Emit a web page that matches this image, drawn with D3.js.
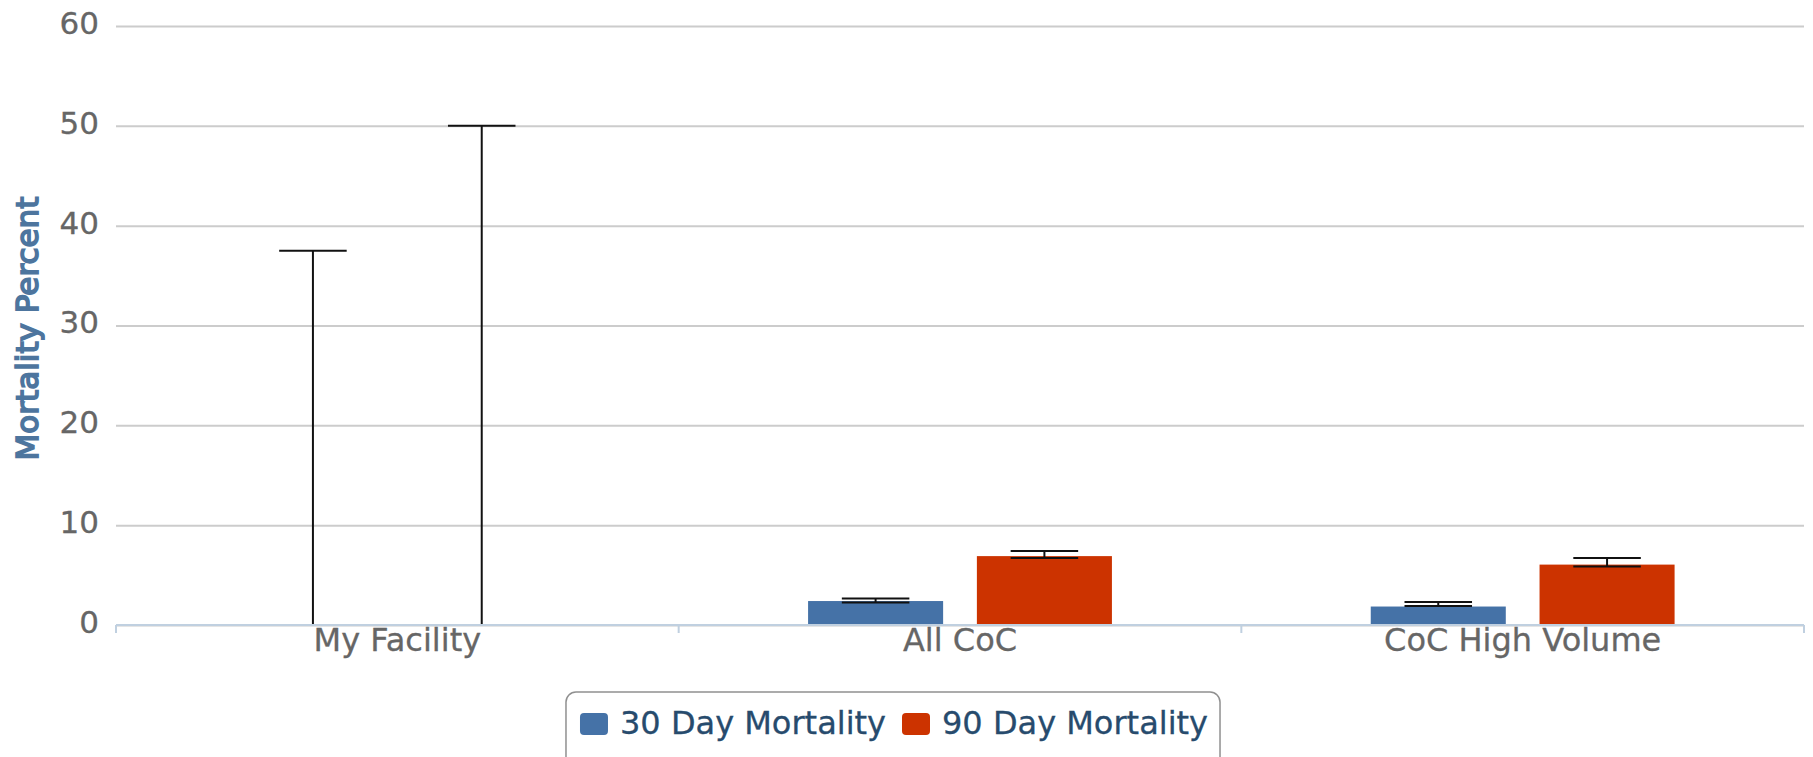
<!doctype html>
<html lang="en">
<head>
  <meta charset="utf-8">
  <title>Mortality</title>
  <script src="https://cdnjs.cloudflare.com/ajax/libs/d3/7.8.5/d3.min.js"></script>
  <style>
    body { margin: 0; background: #fff; }
    svg { display: block; font-family: "DejaVu Sans", sans-serif; }
  </style>
</head>
<body>
  <svg id="chart" width="1813" height="757"></svg>
<script>
  //
  // Data
  //
  var categories = ['My Facility', 'All CoC', 'CoC High Volume']
  var seriesNames = ['30 Day Mortality', '90 Day Mortality']
  var mort30 = [0, 2.4, 1.85]
  var mort90 = [0, 6.9, 6.05]
  var err30Low = [0, 2.26, 1.9]
  var err30High = [37.5, 2.66, 2.3]
  var err90Low = [0, 6.7, 5.86]
  var err90High = [50, 7.4, 6.72]
  var yTicks = [0, 10, 20, 30, 40, 50, 60]

  //
  // Configuration
  //
  var colors = ['#4572A7', '#CC3300']
  var plot = { left: 116, right: 1804, top: 26, bottom: 625 }
  var colorGrid = '#cccccc'
  var colorAxis = '#C0D0E0'
  var colorLabel = '#666666'

  var svg = d3.select('#chart')

  var x = d3.scaleBand().domain(categories).range([plot.left, plot.right])
  var bw = x.bandwidth()
  var xInner = d3.scaleBand().domain(seriesNames)
    .range([bw * 0.2, bw * 0.8]).paddingInner(0.2).paddingOuter(0.1)
  var y = d3.scaleLinear().domain([0, 60]).range([plot.bottom, plot.top])

  // grid + y labels
  var yAxis = svg.append('g')
    .attr('transform', 'translate(' + plot.left + ',0)')
    .call(d3.axisLeft(y).tickValues(yTicks).tickSize(-(plot.right - plot.left)).tickPadding(17))
  yAxis.select('.domain').remove()
  yAxis.selectAll('.tick line').attr('stroke', colorGrid).attr('stroke-width', 2)
  yAxis.selectAll('.tick text')
    .attr('fill', colorLabel).attr('font-size', 31).attr('dy', '0.24em')
    .attr('stroke', colorLabel).attr('stroke-width', 0.3)
    .style('font-family', '"DejaVu Sans", sans-serif')

  // y title
  svg.append('text')
    .attr('transform', 'translate(38,' + ((plot.top + plot.bottom) / 2 + 3) + ') rotate(-90)')
    .attr('text-anchor', 'middle')
    .attr('font-size', 31)
    .attr('fill', '#4d759e')
    .attr('stroke', '#4d759e')
    .attr('stroke-width', 1.7)
    .text('Mortality Percent')

  // bars
  var rows = categories.map(function (c, i) {
    return [
      { cat: c, s: seriesNames[0], v: mort30[i], lo: err30Low[i], hi: err30High[i], color: colors[0] },
      { cat: c, s: seriesNames[1], v: mort90[i], lo: err90Low[i], hi: err90High[i], color: colors[1] }
    ]
  })
  var flat = [].concat.apply([], rows)

  svg.append('g').selectAll('rect')
    .data(flat.filter(function (d) { return d.v > 0 }))
    .join('rect')
    .attr('x', function (d) { return x(d.cat) + xInner(d.s) })
    .attr('width', xInner.bandwidth())
    .attr('y', function (d) { return y(d.v) })
    .attr('height', function (d) { return y(0) - y(d.v) })
    .attr('fill', function (d) { return d.color })

  // error bars
  var eb = svg.append('g').selectAll('g').data(flat).join('g')
    .attr('stroke', '#111').attr('stroke-width', 2)
  function cx(d) { return x(d.cat) + xInner(d.s) + xInner.bandwidth() / 2 }
  var wl = xInner.bandwidth() / 4
  eb.append('line')
    .attr('x1', cx).attr('x2', cx)
    .attr('y1', function (d) { return y(d.lo) }).attr('y2', function (d) { return y(d.hi) })
  eb.append('line')
    .attr('x1', function (d) { return cx(d) - wl }).attr('x2', function (d) { return cx(d) + wl })
    .attr('y1', function (d) { return y(d.hi) }).attr('y2', function (d) { return y(d.hi) })
  eb.append('line')
    .attr('x1', function (d) { return cx(d) - wl }).attr('x2', function (d) { return cx(d) + wl })
    .attr('y1', function (d) { return y(d.lo) }).attr('y2', function (d) { return y(d.lo) })

  // x axis
  var xAxis = svg.append('g')
    .attr('transform', 'translate(0,' + plot.bottom + ')')
    .call(d3.axisBottom(x).tickSize(0).tickPadding(3))
  xAxis.select('.domain').remove()
  xAxis.selectAll('.tick text')
    .attr('fill', colorLabel).attr('font-size', 32)
    .attr('stroke', colorLabel).attr('stroke-width', 0.3)
    .style('font-family', '"DejaVu Sans", sans-serif')
  var bounds = categories.map(function (c) { return x(c) }).concat([plot.right])
  svg.append('g').selectAll('line').data(bounds).join('line')
    .attr('x1', function (d) { return d }).attr('x2', function (d) { return d })
    .attr('y1', plot.bottom).attr('y2', plot.bottom + 8)
    .attr('stroke', colorAxis).attr('stroke-width', 2)
  svg.append('line')
    .attr('x1', plot.left).attr('x2', plot.right)
    .attr('y1', plot.bottom).attr('y2', plot.bottom)
    .attr('stroke', colorAxis).attr('stroke-width', 2)

  // legend
  var legend = svg.append('g')
  var box = legend.append('rect')
  var items = legend.selectAll('g.item').data(seriesNames).join('g').attr('class', 'item')
  items.append('rect')
    .attr('width', 28).attr('height', 22).attr('rx', 4).attr('y', -21)
    .attr('fill', function (d, i) { return colors[i] })
  items.append('text')
    .attr('x', 40).attr('font-size', 32).attr('fill', '#274b6d')
    .attr('stroke', '#274b6d').attr('stroke-width', 0.3)
    .text(function (d) { return d })
  var pos = 0
  items.each(function () {
    d3.select(this).attr('data-x', pos)
    pos += this.getBBox().width + 16
  })
  var totalW = pos - 16
  var lx = 894 - totalW / 2
  items.attr('transform', function () { return 'translate(' + (lx + (+this.getAttribute('data-x'))) + ',734)' })
  box.attr('x', lx - 14).attr('y', 692).attr('width', totalW + 26).attr('height', 90)
    .attr('rx', 10).attr('fill', 'none').attr('stroke', '#909090').attr('stroke-width', 1.5)
</script>
</body>
</html>
